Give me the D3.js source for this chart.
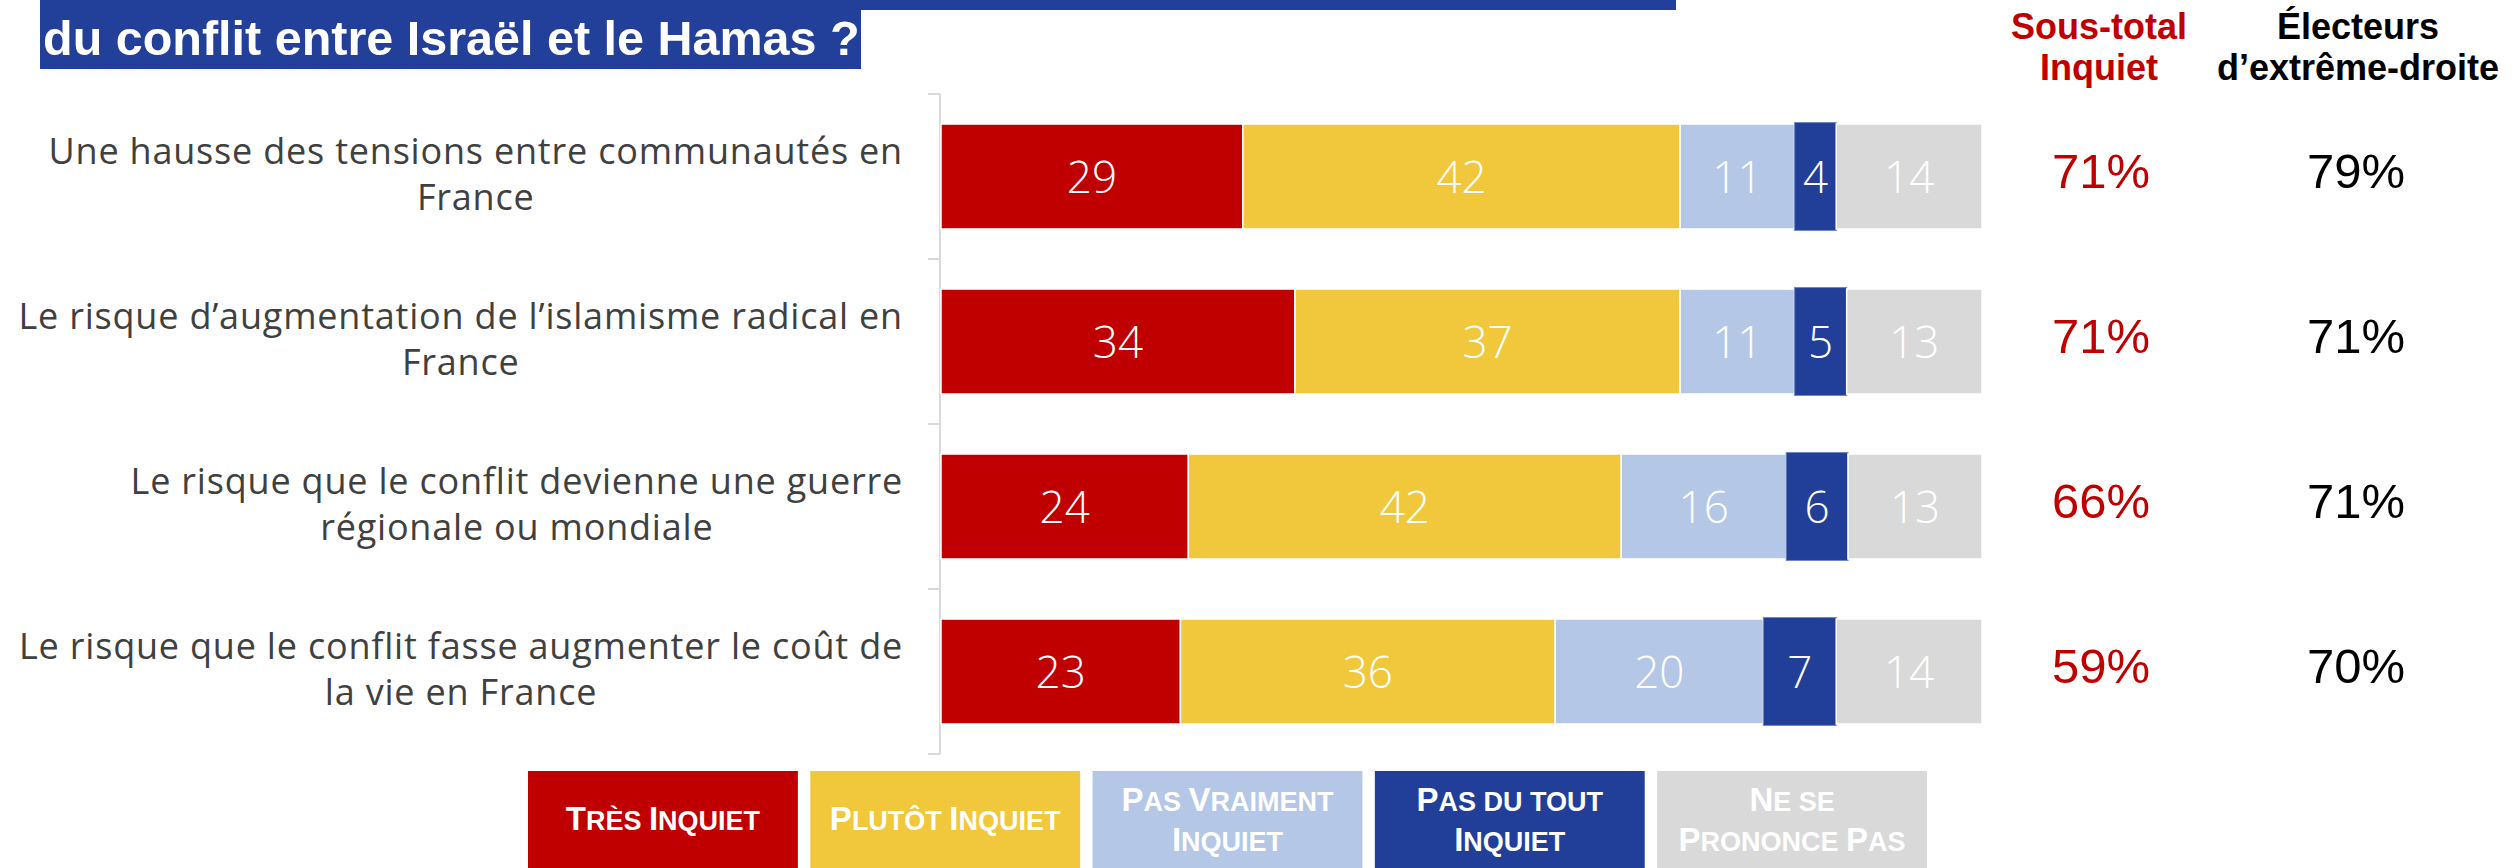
<!DOCTYPE html>
<html><head><meta charset="utf-8">
<script src="https://cdn.jsdelivr.net/npm/d3@7"></script>
<style>html,body{margin:0;padding:0;background:#fff;}svg{display:block;}</style>
</head><body>
<svg id="chart" width="2514" height="868"></svg>
<script>
// ---- data ----
const titleLine = "du conflit entre Israël et le Hamas ?";
const categories = [
  ["Une hausse des tensions entre communautés en", "France"],
  ["Le risque d’augmentation de l’islamisme radical en", "France"],
  ["Le risque que le conflit devienne une guerre", "régionale ou mondiale"],
  ["Le risque que le conflit fasse augmenter le coût de", "la vie en France"]
];
const seriesNames = ["Très Inquiet", "Plutôt Inquiet", "Pas Vraiment Inquiet", "Pas du tout Inquiet", "Ne se Prononce Pas"];
const legendLines = [["Très Inquiet"], ["Plutôt Inquiet"], ["Pas Vraiment", "Inquiet"], ["Pas du tout", "Inquiet"], ["Ne se", "Prononce Pas"]];
const tresInquiet   = [29, 34, 24, 23];
const plutotInquiet = [42, 37, 42, 36];
const pasVraiment   = [11, 11, 16, 20];
const pasDuTout     = [4, 5, 6, 7];
const nspp          = [14, 13, 13, 14];
const sousTotal     = [71, 71, 66, 59];
const extremeDroite = [79, 71, 71, 70];
const headerSousTotal = ["Sous-total", "Inquiet"];
const headerExtreme = ["Électeurs", "d’extrême-droite"];

const colors = ["#c00000", "#f1c83b", "#b4c7e7", "#213f99", "#d9d9d9"];
const series = [tresInquiet, plutotInquiet, pasVraiment, pasDuTout, nspp];

const svg = d3.select("#chart");

// ---- title ----
svg.append("rect").attr("x", 40).attr("y", 0).attr("width", 1636).attr("height", 10).attr("fill", "#22409a");
svg.append("rect").attr("x", 40).attr("y", 0).attr("width", 821).attr("height", 69).attr("fill", "#22409a");
svg.append("text").attr("x", 43).attr("y", 55)
  .attr("font-family", "'Liberation Sans', Arial, sans-serif").attr("font-weight", "bold")
  .attr("font-size", 48.5).attr("fill", "#fff").text(titleLine);

// ---- scales ----
const y = d3.scaleBand().domain(d3.range(categories.length)).range([94, 754]).paddingInner(0.364).paddingOuter(0.182);
const x0 = 941, x1 = 1982;

// axis
const axisG = svg.append("g");
axisG.append("line").attr("x1", 940).attr("x2", 940).attr("y1", 94).attr("y2", 754)
  .attr("stroke", "#d9d9d9").attr("stroke-width", 2);
const step = y.step();
const tickYs = d3.range(categories.length + 1).map(i => 94 + i * step);
axisG.selectAll("line.tick").data(tickYs).join("line").attr("class", "tick")
  .attr("x1", 928).attr("x2", 940).attr("y1", d => d).attr("y2", d => d)
  .attr("stroke", "#d9d9d9").attr("stroke-width", 2);

// bars
categories.forEach((cat, i) => {
  const vals = series.map(s => s[i]);
  const total = d3.sum(vals);
  const x = d3.scaleLinear().domain([0, total]).range([x0, x1]);
  let cum = 0;
  const segs = vals.map((v, k) => { const s = {v, k, a: cum, b: cum + v}; cum += v; return s; });
  const g = svg.append("g");
  g.selectAll("rect").data(segs).join("rect")
    .attr("x", d => x(d.a)).attr("width", d => x(d.b) - x(d.a))
    .attr("y", d => d.k === 3 ? y(i) - 1.5 : y(i))
    .attr("height", d => d.k === 3 ? y.bandwidth() + 3 : y.bandwidth())
    .attr("fill", d => colors[d.k])
    .attr("stroke", d => d.k === 3 ? "#6f86c4" : "#fff")
    .attr("stroke-width", d => d.k === 3 ? 1 : 1.5);
  g.selectAll("text").data(segs).join("text")
    .attr("x", d => (x(d.a) + x(d.b)) / 2)
    .attr("y", y(i) + y.bandwidth() / 2 + 16)
    .attr("text-anchor", "middle")
    .attr("font-family", "'Open Sans', 'Liberation Sans', sans-serif").attr("font-weight", 300)
    .attr("font-size", 44).attr("fill", "#fff")
    .text(d => d.v);

  // category labels
  const cy = y(i) + y.bandwidth() / 2;
  const t = svg.append("text")
    .attr("font-family", "'Open Sans', sans-serif").attr("font-weight", 400)
    .attr("font-size", 36).attr("letter-spacing", 0.8).attr("fill", "#404040")
    .attr("text-anchor", "middle");
  const spans = cat.map((line, li) => t.append("tspan").attr("y", cy - 13 + li * 46).text(line));
  const maxW = d3.max(spans, s => s.node().getComputedTextLength());
  spans.forEach(s => s.attr("x", 903 - maxW / 2));

  // right columns
  svg.append("text").attr("x", 2101).attr("y", cy + 11).attr("text-anchor", "middle")
    .attr("font-family", "'Liberation Sans Narrow', 'Liberation Sans', sans-serif")
    .attr("font-size", 49).attr("fill", "#c00000").text(sousTotal[i] + "%");
  svg.append("text").attr("x", 2356).attr("y", cy + 11).attr("text-anchor", "middle")
    .attr("font-family", "'Liberation Sans Narrow', 'Liberation Sans', sans-serif")
    .attr("font-size", 49).attr("fill", "#000").text(extremeDroite[i] + "%");
});

// headers
[[headerSousTotal, 2099, "#c00000"], [headerExtreme, 2358, "#000"]].forEach(([lines, cx, col]) => {
  const t = svg.append("text").attr("text-anchor", "middle")
    .attr("font-family", "'Liberation Sans', Arial, sans-serif").attr("font-weight", "bold")
    .attr("font-size", 36).attr("fill", col);
  lines.forEach((l, li) => t.append("tspan").attr("x", cx).attr("y", 39 + li * 41).text(l));
});

// legend
const lx = d3.scaleBand().domain(d3.range(seriesNames.length)).range([528, 1927]).paddingInner(0.044);
const lg = svg.append("g");
legendLines.forEach((lines, k) => {
  const bx = lx(k);
  lg.append("rect").attr("x", bx).attr("y", 771).attr("width", lx.bandwidth()).attr("height", 97).attr("fill", colors[k]);
  const base = lines.length === 1 ? [830] : [811, 851];
  lines.forEach((line, li) => {
    const t = lg.append("text").attr("x", bx + lx.bandwidth() / 2).attr("y", base[li])
      .attr("text-anchor", "middle")
      .attr("font-family", "'Liberation Sans', Arial, sans-serif").attr("font-weight", "bold")
      .attr("fill", "#fff");
    // small caps: uppercase letters large, lowercase letters rendered as smaller capitals
    const runs = [];
    for (const ch of line) {
      const big = ch === ch.toUpperCase() && ch !== " ";
      const last = runs[runs.length - 1];
      if (last && last.big === big) last.s += ch; else runs.push({big, s: ch});
    }
    runs.forEach(r => t.append("tspan").attr("font-size", r.big ? 33 : 27).text(r.s.toUpperCase()));
  });
});
</script>
</body></html>
